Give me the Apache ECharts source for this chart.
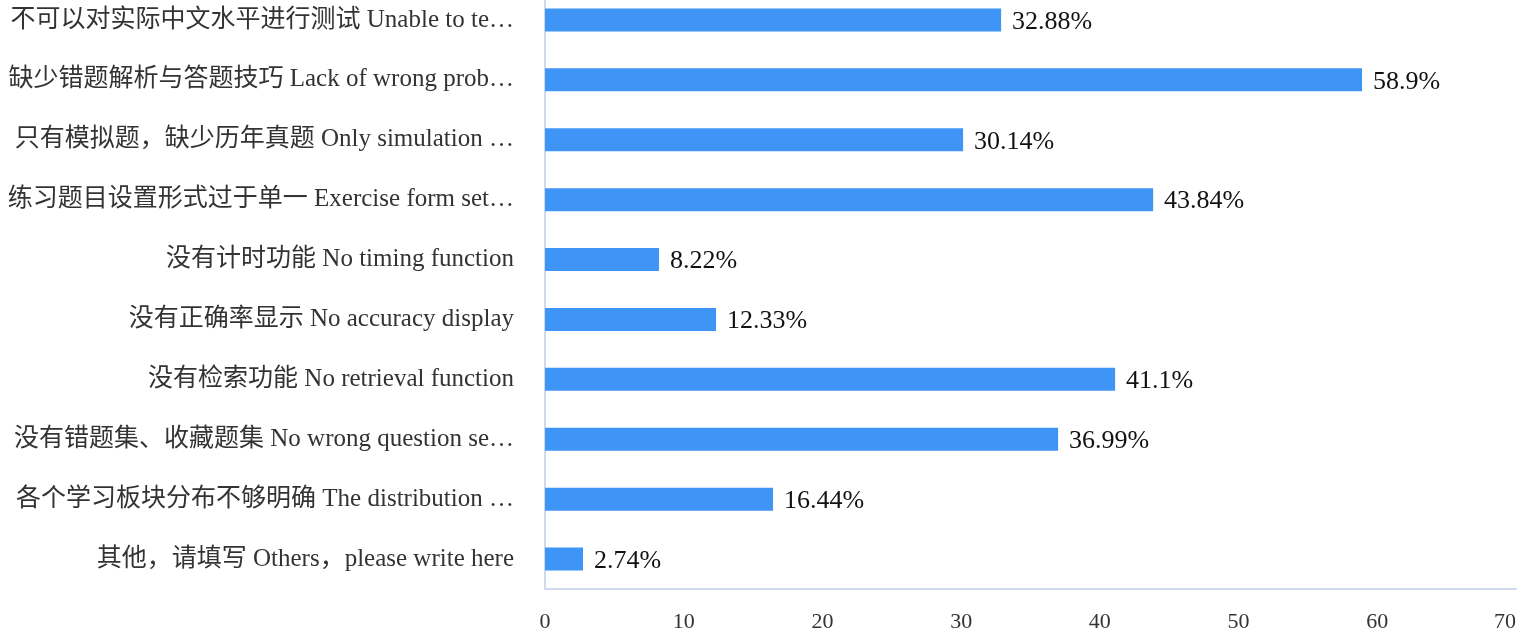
<!DOCTYPE html>
<html><head><meta charset="utf-8">
<script src="https://cdn.jsdelivr.net/npm/echarts@6/dist/echarts.min.js"></script>
<style>html,body{margin:0;padding:0;background:#fff}#c{width:1522px;height:632px}</style>
</head><body><div id="c"></div>
<script>
const categories = [
  "不可以对实际中文水平进行测试 Unable to te…",
  "缺少错题解析与答题技巧 Lack of wrong prob…",
  "只有模拟题，缺少历年真题 Only simulation …",
  "练习题目设置形式过于单一 Exercise form set…",
  "没有计时功能 No timing function",
  "没有正确率显示 No accuracy display",
  "没有检索功能 No retrieval function",
  "没有错题集、收藏题集 No wrong question se…",
  "各个学习板块分布不够明确 The distribution …",
  "其他，请填写 Others，please write here"
];
const values = [32.88, 58.9, 30.14, 43.84, 8.22, 12.33, 41.1, 36.99, 16.44, 2.74];
const xTicks = [0, 10, 20, 30, 40, 50, 60, 70];

const FONT = '"Liberation Serif", "Noto Sans CJK SC", serif';
const chart = echarts.init(document.getElementById('c'));
chart.setOption({
  animation: false,
  grid: { left: 545, right: 6, top: -10, bottom: 43, containLabel: false, outerBoundsMode: 'none' },
  xAxis: {
    type: 'value', min: xTicks[0], max: xTicks[xTicks.length - 1], interval: 10,
    splitLine: { show: false },
    axisLine: { show: true, onZero: false, lineStyle: { color: '#d0daee', width: 2 } },
    axisTick: { show: false },
    axisLabel: { color: '#333', fontSize: 22, fontFamily: FONT, margin: 22, alignMaxLabel: 'right' }
  },
  yAxis: {
    type: 'category', inverse: true, data: categories,
    axisLine: { show: true, lineStyle: { color: '#d0daee', width: 2 } },
    axisTick: { show: false },
    axisLabel: { color: '#333', fontSize: 25, fontFamily: FONT, margin: 31 }
  },
  series: [{
    type: 'bar', data: values, barWidth: 23,
    itemStyle: { color: '#3f95f6' },
    label: {
      show: true, position: 'right', distance: 11, offset: [0, 2],
      color: '#111', fontSize: 26, fontFamily: FONT,
      formatter: p => p.value + '%'
    }
  }]
});
</script></body></html>
